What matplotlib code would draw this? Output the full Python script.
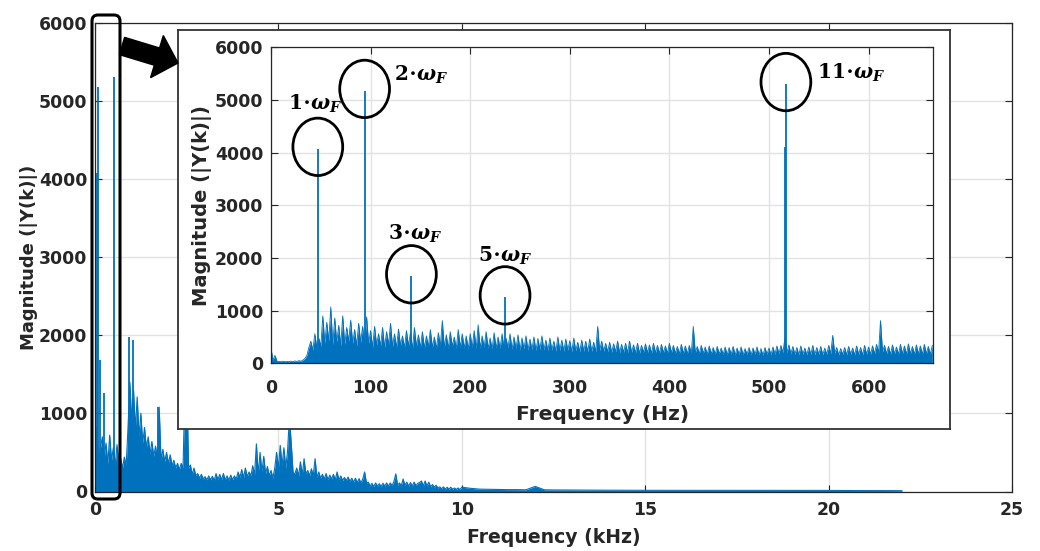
import numpy as np
import matplotlib
matplotlib.use("Agg")
import matplotlib.pyplot as plt
from matplotlib.patches import Ellipse, FancyBboxPatch, FancyArrow
from matplotlib.transforms import IdentityTransform

# ---------------- data ----------------
# Main spectrum (kHz), fine bins every 0.05 kHz from 0 to 9.95 kHz
main_step_fine = 0.05
main_mag_fine = [
    300, 820, 380, 560, 700, 420, 620, 350, 720, 400,
    560, 330, 600, 380, 420, 300, 440, 330, 820, 1400,
    900, 1300, 800, 1210, 700, 1000, 620, 820, 560, 700,
    480, 640, 450, 580, 420, 1080, 400, 540, 380, 500,
    360, 470, 330, 400, 300, 360, 280, 360, 300, 1300,
    1500, 300, 340, 220, 300, 200, 230, 170, 220, 160,
    190, 150, 200, 150, 195, 140, 230, 150, 220, 150,
    230, 150, 200, 145, 210, 150, 200, 160, 250, 180,
    280, 180, 300, 190, 250, 200, 330, 210, 610, 220,
    500, 250, 450, 230, 320, 200, 270, 170, 300, 500,
    300, 590, 330, 560, 300, 520, 950, 620, 240, 230,
    300, 200, 380, 210, 420, 220, 270, 200, 290, 200,
    420, 180, 250, 170, 220, 160, 230, 150, 210, 160,
    220, 150, 250, 150, 200, 140, 180, 140, 185, 130,
    170, 120, 170, 115, 165, 110, 160, 250, 110, 120,
    70, 105, 65, 110, 70, 100, 65, 105, 70, 110,
    70, 110, 75, 130, 225, 80, 110, 75, 160, 80,
    120, 70, 115, 70, 120, 75, 105, 115, 135, 70,
    135, 70, 120, 60, 90, 55, 80, 45, 60, 35,
    60, 30, 55, 30, 55, 30, 45, 28, 45, 25,
]
# Main spectrum tail, every 0.25 kHz from 10.0 to 22.0 kHz
main_tail_start = 10.0
main_step_tail = 0.25
main_mag_tail = [
    55, 40, 30, 28, 26, 24, 24, 22, 65, 22,
    20, 20, 19, 18, 18, 17, 17, 16, 16, 15,
    15, 15, 15, 14, 14, 14, 14, 14, 14, 14,
    14, 14, 14, 14, 14, 14, 14, 14, 14, 14,
    14, 13, 13, 12, 12, 12, 12, 11, 10,
]
# Strong lines in the main view (kHz, magnitude)
main_peak_freq = [0.047, 0.094, 0.141, 0.235, 0.517, 0.93, 1.04, 1.72]
main_peak_mag = [4070, 5170, 1680, 1260, 5300, 1980, 1935, 1080]

# Inset spectrum (Hz), bins every 2 Hz from 0 to 664 Hz
inset_step = 2
inset_mag = [
    280, 60, 150, 40, 35, 30, 40, 30, 35, 30,
    40, 30, 45, 35, 50, 40, 60, 90, 150, 300,
    420, 250, 560, 300, 480, 320, 900, 380, 780, 420,
    1070, 350, 860, 400, 720, 330, 900, 360, 680, 420,
    820, 380, 640, 330, 760, 400, 700, 350, 880, 380,
    620, 300, 700, 350, 560, 330, 680, 300, 600, 360,
    760, 320, 560, 300, 650, 340, 520, 300, 620, 330,
    580, 280, 680, 320, 540, 300, 600, 290, 520, 320,
    640, 300, 500, 280, 580, 330, 810, 300, 540, 290,
    600, 320, 500, 280, 640, 300, 560, 290, 520, 270,
    560, 300, 620, 280, 730, 290, 520, 300, 600, 280,
    480, 270, 580, 290, 500, 280, 560, 270, 480, 290,
    560, 260, 500, 280, 540, 250, 480, 270, 520, 250,
    460, 260, 500, 240, 470, 260, 520, 250, 440, 240,
    480, 250, 420, 230, 500, 240, 440, 230, 460, 250,
    430, 220, 480, 240, 400, 220, 440, 230, 420, 220,
    460, 230, 400, 220, 700, 240, 420, 230, 380, 220,
    400, 210, 370, 220, 420, 200, 360, 210, 380, 200,
    420, 210, 350, 200, 380, 190, 340, 210, 370, 200,
    350, 190, 380, 200, 340, 190, 360, 200, 330, 190,
    380, 200, 340, 190, 320, 180, 360, 190, 330, 180,
    340, 190, 700, 200, 320, 180, 340, 190, 310, 170,
    330, 180, 300, 170, 320, 180, 290, 170, 310, 160,
    300, 170, 320, 160, 290, 170, 310, 160, 280, 170,
    300, 160, 290, 170, 310, 160, 280, 150, 300, 170,
    290, 160, 310, 170, 330, 180, 340, 200, 480, 200,
    350, 180, 320, 170, 300, 160, 330, 170, 290, 160,
    310, 170, 340, 160, 300, 170, 320, 160, 290, 170,
    340, 180, 530, 190, 300, 160, 280, 170, 300, 160,
    320, 170, 290, 160, 330, 170, 300, 160, 340, 170,
    310, 170, 330, 180, 360, 200, 810, 220, 340, 180,
    320, 170, 350, 180, 310, 170, 360, 180, 330, 170,
    370, 180, 320, 170, 350, 180, 330, 170, 360, 180,
    320, 170, 340,
]
# Harmonic lines in the inset (Hz, magnitude)
inset_peak_freq = [47, 94, 141, 235, 516, 517]
inset_peak_mag = [4070, 5170, 1650, 1250, 4100, 5300]

# Circled harmonics
harm_order = ["1", "2", "3", "5", "11"]
harm_freq = [47, 94, 141, 235, 517]
harm_mag = [4070, 5170, 1650, 1250, 5300]

# ---------------- style ----------------
BLUE = "#0072BD"
DARK = "#262626"
GRID = "#e2e2e2"
plt.rcParams["font.family"] = ["DejaVu Sans"]
plt.rcParams["font.weight"] = "bold"
plt.rcParams["axes.labelweight"] = "bold"
plt.rcParams["mathtext.fontset"] = "dejavuserif"

W, H, DPI = 1040, 551, 100
fig = plt.figure(figsize=(W / DPI, H / DPI), dpi=DPI)


def style_axes(ax, tick_size, xpad, ypad):
    ax.set_axisbelow(True)
    ax.grid(True, color=GRID, lw=1.0)
    ax.tick_params(direction="in", length=5, width=0.8, top=True, right=True,
                   colors=DARK, labelsize=tick_size)
    ax.tick_params(axis="x", pad=xpad)
    ax.tick_params(axis="y", pad=ypad)
    for s in ax.spines.values():
        s.set_color(DARK)
        s.set_linewidth(0.9)
    for lab in ax.get_xticklabels() + ax.get_yticklabels():
        lab.set_fontweight("bold")


def px_axes(l, t, r, b):
    return [l / W, 1 - b / H, (r - l) / W, (b - t) / H]


# ---------------- main axes ----------------
ax = fig.add_axes(px_axes(95, 22.5, 1012, 491.5))
f_fine = np.arange(len(main_mag_fine)) * main_step_fine
f_tail = main_tail_start + np.arange(len(main_mag_tail)) * main_step_tail
f_main = np.concatenate([f_fine, f_tail])
m_main = np.concatenate([main_mag_fine, main_mag_tail])
ax.fill_between(f_main, 0, m_main, color=BLUE, lw=0)
ax.plot(f_main, m_main, color=BLUE, lw=0.8)
ax.vlines(main_peak_freq, 0, main_peak_mag, color=BLUE, lw=1.3)
ax.set_xlim(0, 25)
ax.set_ylim(0, 6000)
ax.set_xticks([0, 5, 10, 15, 20, 25])
ax.set_yticks(np.arange(0, 6001, 1000))
style_axes(ax, 12.4, 7.0, 5.5)
ax.set_xlabel("Frequency (kHz)", fontsize=13.6, color=DARK, fontweight="bold")
ax.set_ylabel("Magnitude (|Y(k)|)", fontsize=13.0, color=DARK, fontweight="bold")
ax.xaxis.set_label_coords(0.5, -0.078)
ax.yaxis.set_label_coords(-0.062, 0.5)

# ---------------- inset frame ----------------
box = fig.add_axes(px_axes(178, 30, 950, 429))
box.set_xticks([])
box.set_yticks([])
box.set_facecolor("white")
for s in box.spines.values():
    s.set_color("#333333")
    s.set_linewidth(1.3)

# ---------------- inset axes ----------------
ins = fig.add_axes(px_axes(271, 47.3, 933.3, 363.3))
f_ins = np.arange(len(inset_mag)) * inset_step
ins.fill_between(f_ins, 0, inset_mag, color=BLUE, lw=0)
ins.plot(f_ins, inset_mag, color=BLUE, lw=0.6)
ins.vlines(inset_peak_freq, 0, inset_peak_mag, color=BLUE, lw=1.3)
ins.set_xlim(0, 665)
ins.set_ylim(0, 6000)
ins.set_xticks(np.arange(0, 601, 100))
ins.set_yticks(np.arange(0, 6001, 1000))
style_axes(ins, 12.4, 11.0, 5.5)
ins.set_xlabel("Frequency (Hz)", fontsize=14.6, color=DARK, fontweight="bold")
ins.set_ylabel("Magnitude (|Y(k)|)", fontsize=14.0, color=DARK, fontweight="bold")
ins.xaxis.set_label_coords(0.5, -0.132)
ins.yaxis.set_label_coords(-0.089, 0.5)

# circles and labels (label offsets in data units relative to the peak)
label_offsets = [(-3, 850), (57, 300), (4, 800), (0, 790), (65, 210)]
for k, fr, mg, (dx, dy) in zip(harm_order, harm_freq, harm_mag, label_offsets):
    ins.add_patch(Ellipse((fr, mg + 40), 50, 1090, fill=False, ec="black",
                          lw=2.0, zorder=5))
    ins.text(fr + dx, mg + dy, k + r"$\cdot$" + r"$\mathbfit{\omega}_{\mathbfit{F}}$",
             fontsize=14.5, fontfamily="DejaVu Serif", fontweight="bold",
             color="black", ha="center", va="center", zorder=6)

# ---------------- zoom marker and arrow ----------------
fig.add_artist(FancyBboxPatch((92, H - 499), 28, 484,
                              boxstyle="round,pad=0,rounding_size=6",
                              transform=IdentityTransform(), fill=False,
                              ec="black", lw=2.2))
fig.add_artist(FancyArrow(122, H - 46, 56, -17, width=18, head_width=44,
                          head_length=22, length_includes_head=True,
                          transform=IdentityTransform(), color="black"))

fig.savefig("out.png", dpi=DPI)
